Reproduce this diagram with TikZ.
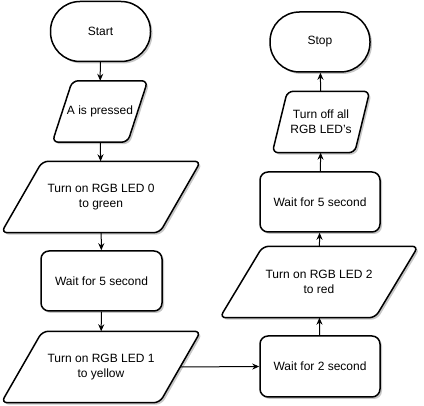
\documentclass[tikz,border=0pt]{standalone}
\usepackage{fontspec}
\setmainfont{Liberation Sans}
\usetikzlibrary{shadows,arrows.meta}
\pgfdeclarelayer{bg}
\pgfsetlayers{bg,main}
\tikzset{
  txt/.style={font=\fontsize{12}{15}\selectfont, align=center, inner sep=0pt},
  shad/.style={drop shadow={shadow xshift=2pt, shadow yshift=-2pt, fill=black, opacity=0.22}},
  term/.style={txt, draw, line width=1.5pt, rounded corners=29.5pt, minimum width=100pt, minimum height=60pt, fill=white, shad},
  proc/.style={txt, draw, line width=1.5pt, rounded corners=8pt, minimum width=120pt, minimum height=60pt, fill=white, shad},
  io/.style={txt, minimum width=#1},
  ioline/.style={draw, line width=1.5pt, rounded corners=6pt, fill=white, shad},
  conn/.style={line width=1pt, -{Stealth[length=7pt,width=6pt]}}
}
\newcommand\paral[2]{%
  \draw[ioline] ([xshift=#2/2]#1.north west) -- ([xshift=#2/2]#1.north east) -- ([xshift=-#2/2]#1.south east) -- ([xshift=-#2/2]#1.south west) -- cycle;}
\begin{document}
\begin{tikzpicture}[x=1pt,y=-1pt]
\useasboundingbox (0,0) rectangle (424,406);
\node[term] (start) at (100.5,31.5) {Start};
\node[io=75pt, minimum height=61pt] (pressed) at (100,111.5) {A is pressed};
\node[io=158pt, minimum height=71pt] (led0) at (101,197) {Turn on RGB LED 0\\to green};
\node[proc, minimum width=121pt] (waita) at (101.5,281) {Wait for 5 second};
\node[io=158pt, minimum height=71pt] (led1) at (101,367) {Turn on RGB LED 1\\to yellow};
\node[proc, minimum height=61pt] (waitc) at (320,366.5) {Wait for 2 second};
\node[io=155pt, minimum height=71pt] (led2) at (319,282) {Turn on RGB LED 2\\to red};
\node[proc] (waitb) at (320,202) {Wait for 5 second};
\node[io=82pt, minimum height=61pt] (off) at (321,122) {Turn off all\\RGB LED's};
\node[term] (stop) at (320,42) {Stop};
\begin{pgfonlayer}{bg}
\paral{pressed}{20}
\paral{led0}{41}
\paral{led1}{41}
\paral{led2}{43}
\paral{off}{15}
\end{pgfonlayer}
\draw[conn] (start) -- (pressed);
\draw[conn] (pressed) -- (led0);
\draw[conn] (led0) -- (waita);
\draw[conn] (waita) -- (led1);
\draw[conn] (led1.east) -- (waitc.west);
\draw[conn] (waitc) -- (led2);
\draw[conn] (led2) -- (waitb);
\draw[conn] (waitb) -- (off);
\draw[conn] (off) -- (stop);
\end{tikzpicture}
\end{document}
